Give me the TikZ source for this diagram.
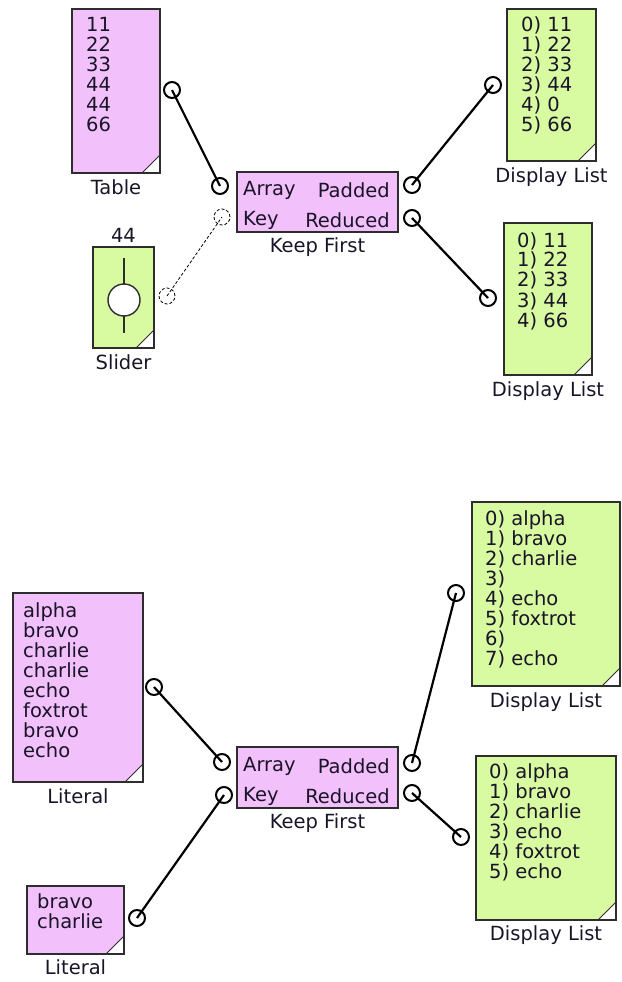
\documentclass[tikz,border=0pt]{standalone}
\usepackage{fontspec}
\setmainfont{DejaVu Sans}
\usetikzlibrary{positioning,calc}

\definecolor{blockpink}{RGB}{242,192,250}
\definecolor{blockgreen}{RGB}{216,250,160}
\definecolor{edgegray}{RGB}{45,45,45}
\definecolor{inkgray}{RGB}{25,20,40}

\newcommand{\listfont}{\fontsize{19.5}{20}\selectfont}

% white dog-ear in the lower right corner of a block
\newcommand{\foldcorner}[1]{%
  \fill[white] ([xshift=-18pt]#1.south east) -- (#1.south east) -- ([yshift=18pt]#1.south east) -- cycle;
  \draw[edgegray, line width=0.9pt] ([xshift=-18pt]#1.south east) -- ([yshift=18pt]#1.south east);
  \draw[edgegray, line width=1.6pt] ([xshift=-18pt]#1.south east) -- (#1.south east) -- ([yshift=18pt]#1.south east);
}

\tikzset{
  blockbox/.style={draw=edgegray, line width=1.6pt, inner sep=0pt, outer sep=0pt},
  pinkbox/.style={blockbox, fill=blockpink},
  greenbox/.style={blockbox, fill=blockgreen},
  listtext/.style={anchor=north west, inner sep=0pt, align=left, text=inkgray, font=\listfont},
  lbl/.style={anchor=base, inner sep=0pt, text=inkgray, font=\listfont},
  pintext/.style={inner sep=0pt, text=inkgray, font=\listfont},
  port/.style={circle, draw=black, line width=2pt, minimum size=16pt, inner sep=0pt},
  idleport/.style={circle, draw=black, densely dashed, line width=0.8pt, minimum size=16pt, inner sep=0pt},
  wire/.style={line width=2.2pt},
  idlewire/.style={line width=0.8pt, densely dashed},
}

\begin{document}
\begin{tikzpicture}[x=1pt, y=-1pt]

  \useasboundingbox (0,0) rectangle (621,982);

  % ---------------- upper diagram ----------------

  % Blocks
  \node[pinkbox,  minimum width=88pt,  minimum height=164pt] (table)  at (116,91)    {};
  \node[greenbox, minimum width=61pt,  minimum height=101pt] (slider) at (123.5,297.5) {};
  \node[pinkbox,  minimum width=161pt, minimum height=60pt]  (keepA)  at (317.5,202)  {};
  \node[greenbox, minimum width=89pt,  minimum height=152pt] (dlA)    at (551.5,85)   {};
  \node[greenbox, minimum width=88pt,  minimum height=152pt] (dlB)    at (548,299)    {};

  \foldcorner{table}
  \foldcorner{slider}
  \foldcorner{dlA}
  \foldcorner{dlB}

  % Slider track and knob
  \draw[edgegray, line width=1.4pt] (124,258) -- (124,333);
  \node[circle, draw=edgegray, fill=white, line width=1.4pt, minimum size=32pt] (knob) at (124,300) {};

  % Block contents
  \node[listtext] (tabletext) at (86,17)    {11\\22\\33\\44\\44\\66};
  \node[listtext] (dlAtext)   at (521,17)   {0) 11\\1) 22\\2) 33\\3) 44\\4) 0\\5) 66};
  \node[listtext] (dlBtext)   at (517,232)  {0) 11\\1) 22\\2) 33\\3) 44\\4) 66};

  \node[pintext, anchor=west] (keepAarrtxt) at (243,190) {Array};
  \node[pintext, anchor=west] (keepAkeytxt) at (243,220) {Key};
  \node[pintext, anchor=east] (keepApadtxt) at (390,190) {Padded};
  \node[pintext, anchor=east] (keepAredtxt) at (390,220) {Reduced};

  % Block captions
  \node[lbl] (tablelbl)    at ([yshift=-21pt]table.south)  {Table};
  \node[lbl] (sliderlbl)   at ([yshift=-21pt]slider.south) {Slider};
  \node[lbl] (slidervalue) at ([yshift=5pt]slider.north)   {44};
  \node[lbl] (keepAlbl)    at ([yshift=-20.5pt]keepA.south) {Keep First};
  \node[lbl] (dlAlbl)      at ([yshift=-21pt]dlA.south)    {Display List};
  \node[lbl] (dlBlbl)      at ([yshift=-21pt]dlB.south)    {Display List};

  % Ports
  \node[port]     (tableout)  at (172,90)  {};
  \node[idleport] (sliderout) at (167,296) {};
  \node[port]     (keepAarr)  at (220,186) {};
  \node[idleport] (keepAkey)  at (222,217) {};
  \node[port]     (keepApad)  at (412,185) {};
  \node[port]     (keepAred)  at (412,218) {};
  \node[port]     (dlAin)     at (493,85)  {};
  \node[port]     (dlBin)     at (488,298) {};

  % Wires
  \draw[wire]     (tableout.center)  -- (keepAarr.center);
  \draw[idlewire] (sliderout.center) -- (keepAkey.center);
  \draw[wire]     (keepApad.center)  -- (dlAin.center);
  \draw[wire]     (keepAred.center)  -- (dlBin.center);

  % ---------------- lower diagram ----------------

  % Blocks
  \node[pinkbox,  minimum width=130pt, minimum height=189pt] (litA)  at (78,687.5)    {};
  \node[pinkbox,  minimum width=97pt,  minimum height=68pt]  (litB)  at (75.5,920)    {};
  \node[pinkbox,  minimum width=161pt, minimum height=61pt]  (keepB) at (317.5,777.5) {};
  \node[greenbox, minimum width=148pt, minimum height=184pt] (dlC)   at (546,594)     {};
  \node[greenbox, minimum width=140pt, minimum height=164pt] (dlD)   at (546,838)     {};

  \foldcorner{litA}
  \foldcorner{litB}
  \foldcorner{dlC}
  \foldcorner{dlD}

  % Block contents
  \node[listtext] (litAtext) at (23,602)  {alpha\\bravo\\charlie\\charlie\\echo\\foxtrot\\bravo\\echo};
  \node[listtext] (litBtext) at (37,893)  {bravo\\charlie};
  \node[listtext] (dlCtext)  at (485,510) {0) alpha\\1) bravo\\2) charlie\\3)\\4) echo\\5) foxtrot\\6)\\7) echo};
  \node[listtext] (dlDtext)  at (489,763) {0) alpha\\1) bravo\\2) charlie\\3) echo\\4) foxtrot\\5) echo};

  \node[pintext, anchor=west] (keepBarrtxt) at (243,766) {Array};
  \node[pintext, anchor=west] (keepBkeytxt) at (243,796) {Key};
  \node[pintext, anchor=east] (keepBpadtxt) at (390,766) {Padded};
  \node[pintext, anchor=east] (keepBredtxt) at (390,796) {Reduced};

  % Block captions
  \node[lbl] (litAlbl)  at ([yshift=-21pt]litA.south)    {Literal};
  \node[lbl] (litBlbl)  at ([yshift=-20.5pt]litB.south)  {Literal};
  \node[lbl] (keepBlbl) at ([yshift=-20.5pt]keepB.south) {Keep First};
  \node[lbl] (dlClbl)   at ([yshift=-21pt]dlC.south)     {Display List};
  \node[lbl] (dlDlbl)   at ([yshift=-20.5pt]dlD.south)   {Display List};

  % Ports
  \node[port] (litAout)  at (154,687) {};
  \node[port] (litBout)  at (137,918) {};
  \node[port] (keepBarr) at (222,762) {};
  \node[port] (keepBkey) at (224,795) {};
  \node[port] (keepBpad) at (412,763) {};
  \node[port] (keepBred) at (412,793) {};
  \node[port] (dlCin)    at (456,593) {};
  \node[port] (dlDin)    at (461,837) {};

  % Wires
  \draw[wire] (litAout.center)  -- (keepBarr.center);
  \draw[wire] (litBout.center)  -- (keepBkey.center);
  \draw[wire] (keepBpad.center) -- (dlCin.center);
  \draw[wire] (keepBred.center) -- (dlDin.center);

\end{tikzpicture}
\end{document}
